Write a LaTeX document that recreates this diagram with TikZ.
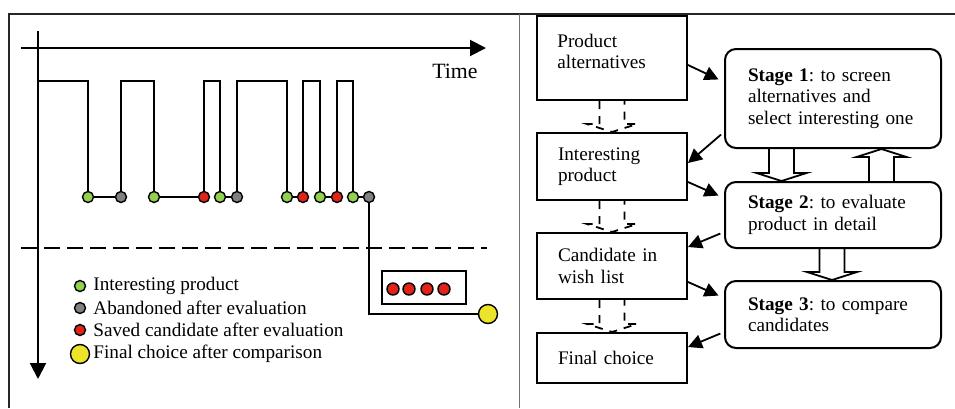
\documentclass[tikz,border=0pt]{standalone}
\usepackage{fontspec}
\setmainfont{Liberation Serif}
\frenchspacing
\usetikzlibrary{arrows.meta,calc}
\definecolor{ipgreen}{RGB}{146,208,80}
\definecolor{abgray}{RGB}{128,128,128}
\definecolor{svred}{RGB}{226,35,26}
\definecolor{fcyellow}{RGB}{236,228,42}
\tikzset{
    dot/.style={circle, draw, line width=0.7pt, inner sep=0pt, minimum size=5.5pt},
    green dot/.style={dot, fill=ipgreen},
    gray dot/.style={dot, fill=abgray},
    red dot/.style={dot, fill=svred},
    yellow dot/.style={dot, fill=fcyellow, minimum size=9.5pt},
    legend/.style={anchor=west, inner sep=0pt},
    itembox/.style={draw, line width=1pt, anchor=north west, text width=54pt,
        inner xsep=10.5pt, inner ysep=0pt, align=left},
    stagebox/.style={draw, line width=1pt, rounded corners=5.5pt, anchor=north west,
        text width=85pt, inner xsep=11.5pt, inner ysep=0pt, align=left},
    link/.style={line width=0.9pt, -{Triangle[length=7pt,width=7pt]}},
    blockto/.style={to path={
        ($(\tikztostart)+(-6.25pt,0)$) -- ($(\tikztotarget)!4pt!(\tikztostart)+(-6.25pt,0)$)
        -- ($(\tikztotarget)!4pt!(\tikztostart)+(-12.5pt,0)$) -- (\tikztotarget)
        -- ($(\tikztotarget)!4pt!(\tikztostart)+(12.5pt,0)$)
        -- ($(\tikztotarget)!4pt!(\tikztostart)+(6.25pt,0)$) -- ($(\tikztostart)+(6.25pt,0)$)
    }},
    open block/.style={line width=0.9pt},
    dashed block/.style={line width=0.9pt, dash pattern=on 4pt off 3.5pt},
}

\begin{document}
\begin{tikzpicture}[x=0.5pt, y=-0.5pt, font=\fontsize{9.6}{10.75}\selectfont]
\useasboundingbox (0,0) rectangle (955,408);

% frame
\draw[line width=0.8pt, black!85] (9,408) -- (9,14) -- (955,14);
\draw[line width=0.8pt, black!55] (519.5,14) -- (519.5,408);

%%% left panel: the timeline
\coordinate (ytop) at (38,31);
\coordinate (ybot) at (38,379);
\coordinate (xl) at (21,48);
\coordinate (xr) at (486,48);
\draw[line width=1pt, -{Triangle[length=8pt,width=8pt]}] (ytop) -- (ybot);
\draw[line width=1pt, -{Triangle[length=8pt,width=8pt]}] (xl) -- (xr);
\node[font=\fontsize{10.9}{13}\selectfont] (time) at (455,71) {Time};

\coordinate (t0) at (38,81);
\node[green dot] (d1) at (88,197) {};
\node[gray dot] (d2) at (121,197) {};
\node[green dot] (d3) at (154,197) {};
\node[red dot] (d4) at (204,197) {};
\node[green dot] (d5) at (220,197) {};
\node[gray dot] (d6) at (237,197) {};
\node[green dot] (d7) at (287,197) {};
\node[red dot] (d8) at (303,197) {};
\node[green dot] (d9) at (320,197) {};
\node[red dot] (d10) at (337,197) {};
\node[green dot] (d11) at (353,197) {};
\node[gray dot] (d12) at (369,197) {};
\node[yellow dot] (fin) at (488,314) {};

\draw[line width=1pt] (t0) -| (d1) -- (d2) -- (d2 |- t0) -| (d3) -- (d4) -- (d4 |- t0) -| (d5)
    -- (d6) -- (d6 |- t0) -| (d7) -- (d8) -- (d8 |- t0) -| (d9) -- (d10) -- (d10 |- t0) -| (d11)
    -- (d12) |- (fin);

\draw[line width=1pt, dash pattern=on 8pt off 3.5pt] (21,248) -- (487,248);

% wish list
\node[draw, line width=1pt, minimum width=42pt, minimum height=16.5pt, inner sep=0pt] (wish) at (424,287.5) {};
\foreach \x [count=\i] in {393,409,427,444}
    \node[red dot, minimum size=6pt] (w\i) at (\x,289) {};

% legend
\node[green dot] (lg1) at (80,286) {};
\node[legend] (lt1) at (93,286) {Interesting product};
\node[gray dot] (lg2) at (80,308) {};
\node[legend] (lt2) at (93,308) {Abandoned after evaluation};
\node[red dot] (lg3) at (80,330) {};
\node[legend] (lt3) at (93,330) {Saved candidate after evaluation};
\node[yellow dot] (lg4) at (80,354) {};
\node[legend] (lt4) at (93,354) {Final choice after comparison};

%%% right panel: states and stages
\node[itembox, minimum height=42pt] (alt) at (536,15) {};
\node[legend, align=left] (alttext) at (557,51.5) {Product\\alternatives};
\node[itembox, minimum height=33.5pt] (int) at (536,132) {Interesting\\product};
\node[itembox, minimum height=33pt] (cand) at (536,232) {Candidate in\\wish list};
\node[itembox, minimum height=25pt] (final) at (536,332) {Final choice};

\node[stagebox, minimum height=49.5pt] (st1) at (724,48)
    {\textbf{Stage 1}: to screen\\alternatives and\\select interesting one};
\node[stagebox, minimum height=33pt] (st2) at (724,181)
    {\textbf{Stage 2}: to evaluate\\product in detail};
\node[stagebox, minimum height=33.5pt] (st3) at (724,280)
    {\textbf{Stage 3}: to compare\\candidates};

\draw[link, shorten >=3pt] (alt.east |- 0,65) -- (st1.west |- 0,82);
\draw[link, shorten <=2pt] (st1.west |- 0,132) -- (int.east |- 0,163);
\draw[link, shorten >=3pt] (int.east |- 0,182) -- (st2.west |- 0,198);
\draw[link, shorten <=2pt] (st2.west |- 0,232) -- (cand.east |- 0,247);
\draw[link, shorten >=3pt] (cand.east |- 0,282) -- (st3.west |- 0,298);
\draw[link, shorten <=2pt] (st3.west |- 0,332) -- (final.east |- 0,347);

% block arrows
\draw[dashed block] (alt.south) to[blockto] (int.north);
\draw[dashed block] (int.south) to[blockto] (cand.north);
\draw[dashed block] (cand.south) to[blockto] (final.north);

\coordinate (dn12) at (781.5,0);
\coordinate (up21) at (881.5,0);
\coordinate (dn23) at (832,0);
\draw[open block] (st1.south -| dn12) to[blockto] (st2.north -| dn12);
\draw[open block] (st2.north -| up21) to[blockto] (st1.south -| up21);
\draw[open block] (st2.south -| dn23) to[blockto] (st3.north -| dn23);
\end{tikzpicture}
\end{document}
